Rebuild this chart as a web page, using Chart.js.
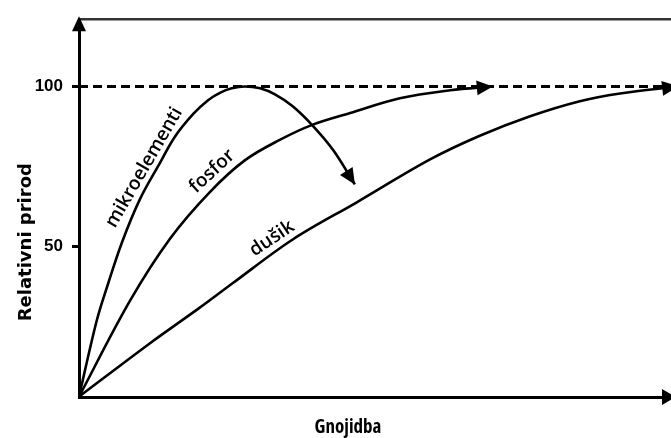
<!DOCTYPE html>
<html>
<head>
<meta charset="utf-8">
<script src="https://cdn.jsdelivr.net/npm/chart.js@4"></script>
<style>
  html, body { margin: 0; padding: 0; background: #fff; }
</style>
</head>
<body>
<canvas id="chart" width="671" height="438"></canvas>
<script>
// Relative yield response to fertiliser for three nutrient groups
const curveNames = ['mikroelementi', 'fosfor', 'dušik'];
const yTicks = [50, 100];
const maxLevel = [100, 100];

const mikroX = [0, 3.0, 4.9, 7.3, 10.3, 13.7, 16.2, 19.3, 21.8, 23.8, 25.8, 28.0, 30.6, 33.1, 36.1, 39.5, 42.9, 46.6];
const mikroY = [3.1, 26.9, 38.3, 51.5, 64.8, 76.2, 84.3, 91.4, 95.7, 98.0, 99.4, 100, 99.4, 97.5, 93.8, 87.7, 80.2, 69.4];

const fosforX = [0, 8.6, 15.4, 22.1, 28.0, 33.9, 39.4, 45.8, 54.2, 62.7, 69.9];
const fosforY = [3.1, 33.0, 52.5, 67.0, 76.9, 83.3, 88.0, 91.7, 96.3, 98.8, 100];

const dusikX = [0, 12.0, 20.4, 26.0, 36.1, 47.0, 59.3, 67.7, 76.2, 84.6, 91.4, 101.2];
const dusikY = [3.1, 19.8, 30.9, 38.6, 52.2, 63.9, 77.2, 84.6, 90.7, 95.4, 97.8, 100];

function toPoints(xs, ys) {
    return xs.map((x, i) => ({ x: x, y: ys[i] }));
}

function curve(label, xs, ys) {
    return {
        label: label,
        data: toPoints(xs, ys),
        borderColor: '#000',
        borderWidth: 2.6,
        tension: 0.35,
        pointRadius: 0,
        fill: false,
        arrow: true
    };
}

// filled triangle with its tip at (x, y) pointing along angle
function arrowHead(ctx, x, y, angle, len, width) {
    ctx.save();
    ctx.translate(x, y);
    ctx.rotate(angle);
    ctx.beginPath();
    ctx.moveTo(0, 0);
    ctx.lineTo(-len, -width / 2);
    ctx.lineTo(-len, width / 2);
    ctx.closePath();
    ctx.fillStyle = '#000';
    ctx.fill();
    ctx.restore();
}

const decorations = {
    id: 'decorations',
    afterDraw(chart) {
        const ctx = chart.ctx;
        const area = chart.chartArea;
        const xs = chart.scales.x;
        const ys = chart.scales.y;

        // frame line along the top
        ctx.save();
        ctx.strokeStyle = '#333';
        ctx.lineWidth = 2.5;
        ctx.beginPath();
        ctx.moveTo(area.left, area.top);
        ctx.lineTo(area.right, area.top);
        ctx.stroke();
        ctx.restore();

        // axis arrows
        arrowHead(ctx, area.left, area.top - 3, -Math.PI / 2, 15, 14);
        arrowHead(ctx, area.right + 5, area.bottom, 0, 14, 16);

        // arrows at the end of each curve
        chart.data.datasets.forEach((ds, i) => {
            if (!ds.arrow) return;
            const pts = chart.getDatasetMeta(i).data;
            const p = pts[pts.length - 1];
            const q = pts[pts.length - 2];
            const fromX = p.cp1x !== undefined ? p.cp1x : q.x;
            const fromY = p.cp1y !== undefined ? p.cp1y : q.y;
            const angle = Math.atan2(p.y - fromY, p.x - fromX);
            arrowHead(ctx, p.x, p.y, angle, 16, 15);
        });

        // curve names written along the curves
        const anchors = [[11.0, 74.7, -60], [22.5, 73.5, -43], [32.6, 52.5, -34]];
        ctx.save();
        ctx.fillStyle = '#000';
        ctx.font = '600 19px "Open Sans"';
        ctx.textAlign = 'center';
        ctx.textBaseline = 'middle';
        curveNames.forEach((name, i) => {
            const a = anchors[i];
            ctx.save();
            ctx.translate(xs.getPixelForValue(a[0]), ys.getPixelForValue(a[1]));
            ctx.rotate(a[2] * Math.PI / 180);
            ctx.fillText(name, 0, 0);
            ctx.restore();
        });
        ctx.restore();

        // axis titles
        ctx.save();
        ctx.fillStyle = '#000';
        ctx.textAlign = 'center';
        ctx.font = 'bold 19px "Open Sans"';
        ctx.fontStretch = 'semi-condensed';
        ctx.textBaseline = 'alphabetic';
        ctx.fillText('Gnojidba', area.left + 269, area.bottom + 36);
        ctx.fontStretch = 'normal';
        ctx.font = 'bold 18px "DejaVu Sans"';
        ctx.textBaseline = 'middle';
        ctx.translate(26, area.top + 223);
        ctx.rotate(-Math.PI / 2);
        ctx.fillText('Relativni prirod', 0, 0);
        ctx.restore();
    }
};

new Chart(document.getElementById('chart'), {
    type: 'line',
    data: {
        datasets: [
            {
                label: 'max',
                data: toPoints([0, 100], maxLevel),
                borderColor: '#000',
                borderWidth: 3,
                borderDash: [9, 5],
                pointRadius: 0,
                fill: false
            },
            curve(curveNames[0], mikroX, mikroY),
            curve(curveNames[1], fosforX, fosforY),
            curve(curveNames[2], dusikX, dusikY)
        ]
    },
    options: {
        responsive: false,
        animation: false,
        layout: { padding: { top: 15, right: 0, left: 0, bottom: 0 } },
        plugins: {
            legend: { display: false },
            tooltip: { enabled: false }
        },
        scales: {
            x: {
                type: 'linear',
                min: 0,
                max: 100,
                afterFit: s => { s.height = 41; },
                ticks: { display: false },
                grid: { display: false },
                border: { color: '#000', width: 3 }
            },
            y: {
                type: 'linear',
                min: 3,
                max: 121,
                afterFit: s => { s.width = 79; },
                afterBuildTicks: s => { s.ticks = yTicks.map(v => ({ value: v })); },
                grid: {
                    drawOnChartArea: false,
                    tickLength: 7,
                    tickWidth: 3,
                    tickColor: '#000'
                },
                border: { color: '#000', width: 3 },
                ticks: {
                    color: '#000',
                    padding: 9,
                    font: { family: '"Liberation Sans"', size: 17, weight: 'bold' }
                }
            }
        }
    },
    plugins: [decorations]
});
</script>
</body>
</html>
